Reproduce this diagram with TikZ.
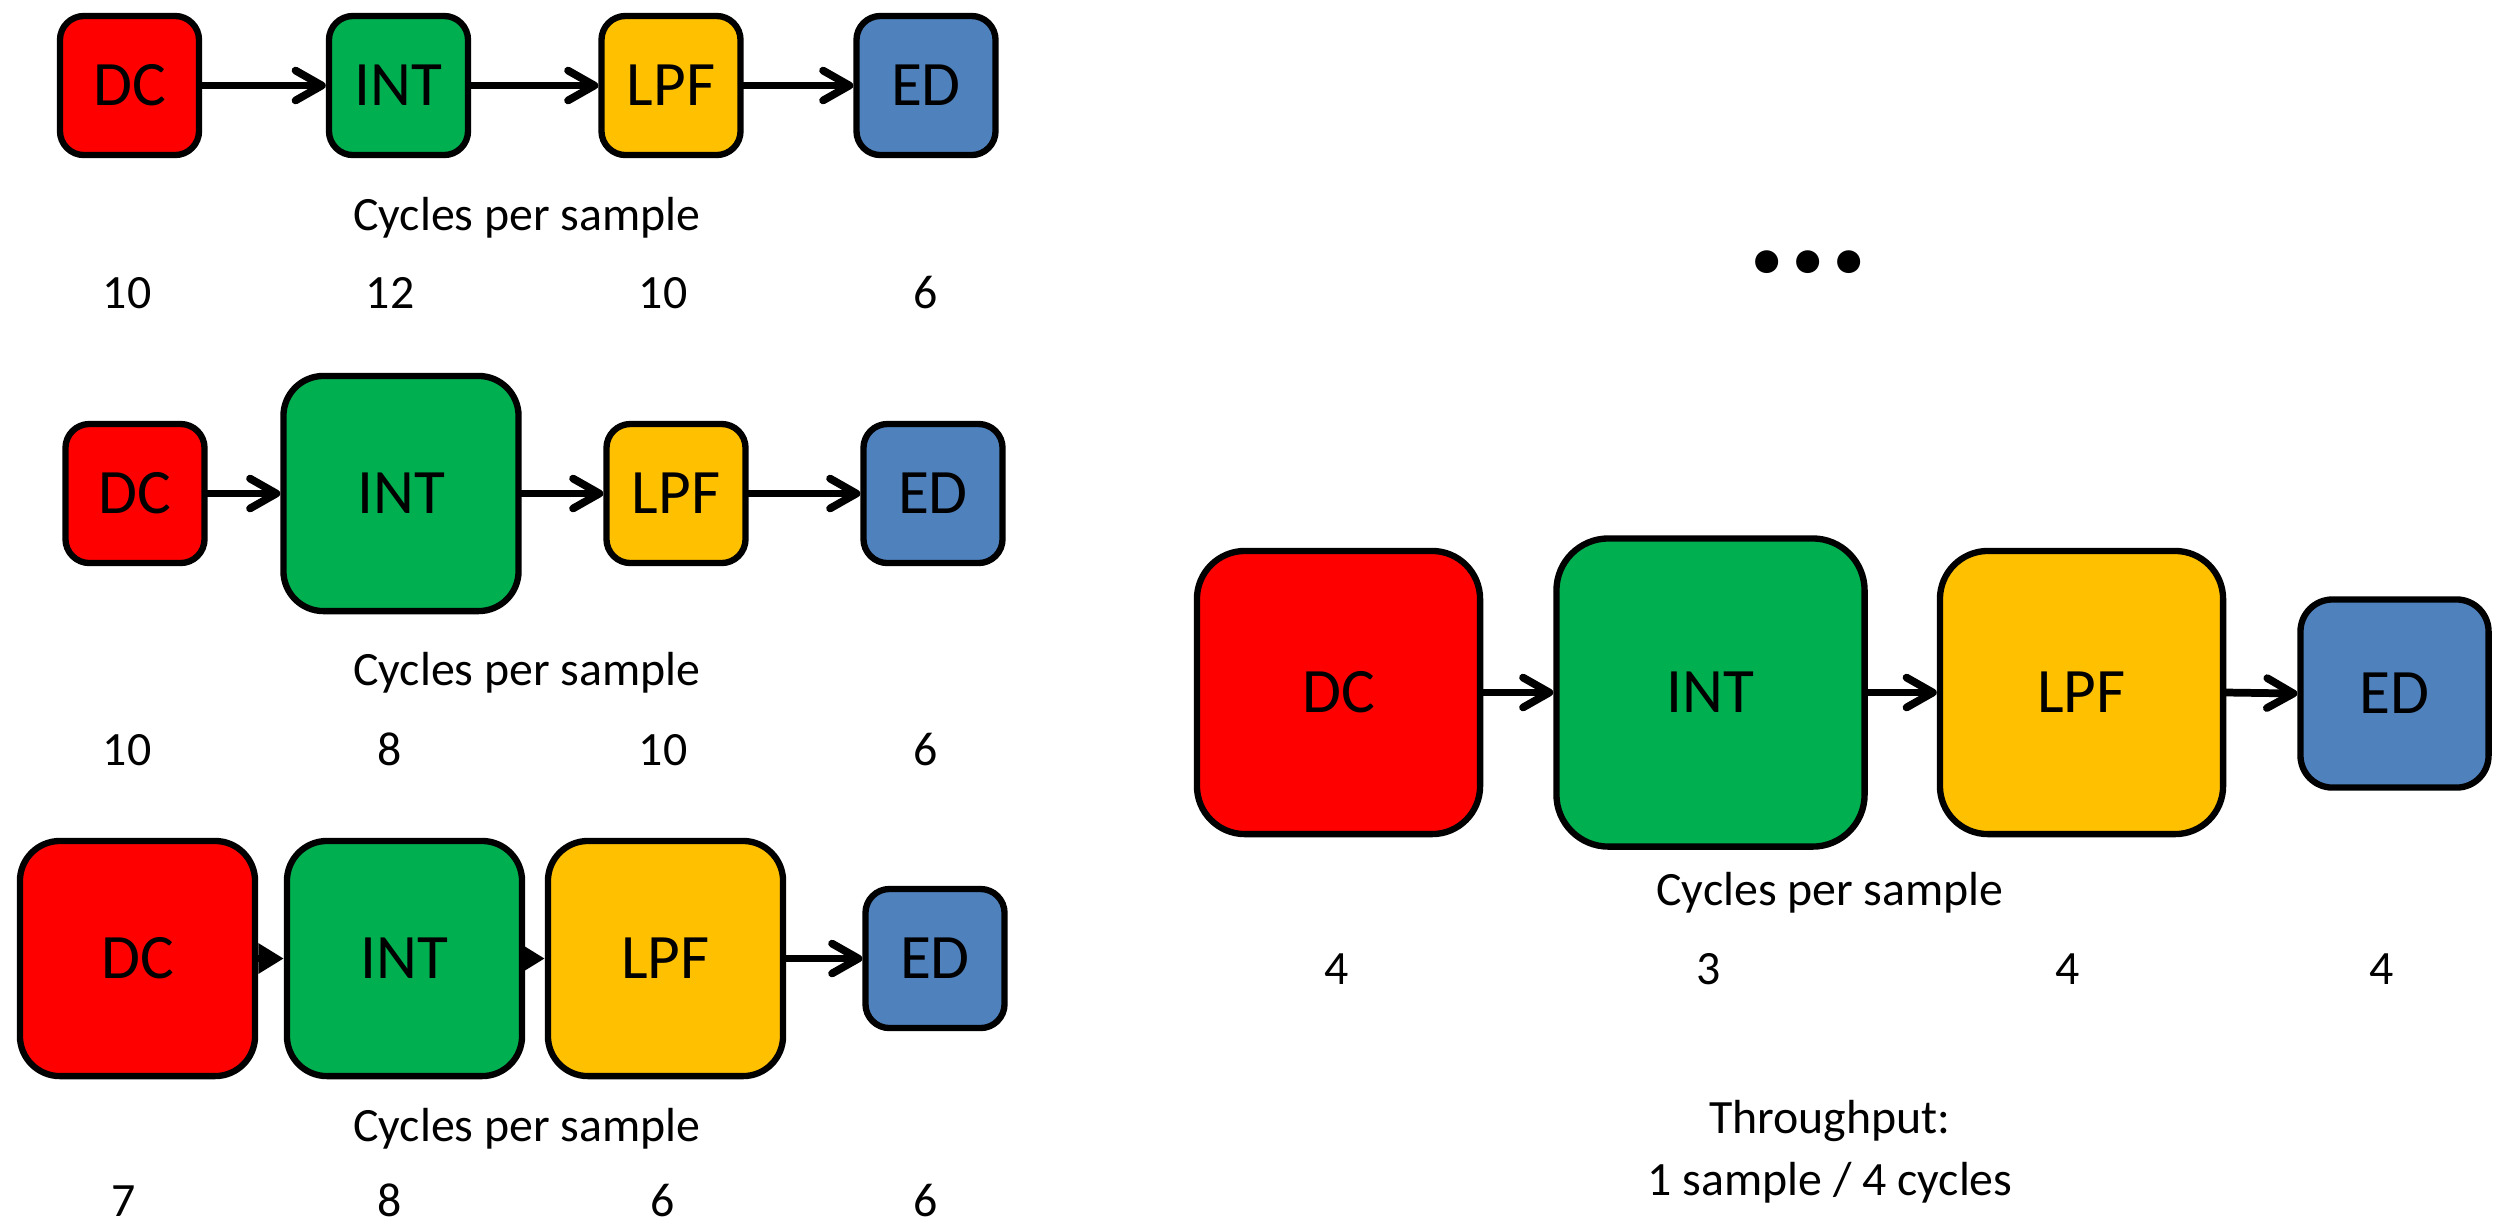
\documentclass[tikz,border=0pt]{standalone}
\usepackage{fontspec}
\setmainfont{Carlito}
\usetikzlibrary{arrows.meta}
\definecolor{dcred}{HTML}{FF0000}
\definecolor{intgreen}{HTML}{00B050}
\definecolor{lpfamber}{HTML}{FFC000}
\definecolor{edblue}{HTML}{4F81BD}

\begin{document}
\begin{tikzpicture}[x=0.01cm, y=-0.01cm,
  stage/.style={draw=black, line width=1.8pt, inner sep=0pt,
                font=\fontsize{18}{21}\selectfont},
  sA/.style={minimum width=1.39cm, minimum height=1.39cm, rounded corners=0.24cm},
  sB/.style={minimum width=2.35cm, minimum height=2.35cm, rounded corners=0.40cm},
  sC/.style={minimum width=2.83cm, minimum height=2.83cm, rounded corners=0.48cm},
  sD/.style={minimum width=3.08cm, minimum height=3.08cm, rounded corners=0.52cm},
  sE/.style={minimum width=1.88cm, minimum height=1.88cm, rounded corners=0.32cm},
  flow/.style={line width=2.2pt, line cap=round,
               -{Straight Barb[length=7.5pt, width=8.5pt, line cap=round, line join=round]}},
  stub/.style={line width=2.2pt, -{Triangle[length=7.2pt, width=8.2pt]}},
  lab/.style={font=\fontsize{13.6}{16}\selectfont, anchor=base, inner sep=0pt}]

\useasboundingbox (0,0) rectangle (2495,1226);

% ---- first pipeline: all stages the same size
\node[stage, sA, fill=dcred]    (r1dc)  at (129.5,85.5) {DC};
\node[stage, sA, fill=intgreen] (r1int) at (398.5,85.5) {INT};
\node[stage, sA, fill=lpfamber] (r1lpf) at (671,85.5)   {LPF};
\node[stage, sA, fill=edblue]   (r1ed)  at (926,85.5)   {ED};
\draw[flow] (r1dc.east)  -- (r1int.west);
\draw[flow] (r1int.east) -- (r1lpf.west);
\draw[flow] (r1lpf.east) -- (r1ed.west);
\node[lab] (r1cap) at (527,230) {Cycles per sample};
\node[lab] (r1n1) at (127,308) {10};
\node[lab] (r1n2) at (390,308) {12};
\node[lab] (r1n3) at (663,308) {10};
\node[lab] (r1n4) at (926,308) {6};

% ---- second pipeline: larger integrator
\node[stage, sA, fill=dcred]    (r2dc)  at (135,493.5) {DC};
\node[stage, sB, fill=intgreen] (r2int) at (401,493.5) {INT};
\node[stage, sA, fill=lpfamber] (r2lpf) at (676,493.5) {LPF};
\node[stage, sA, fill=edblue]   (r2ed)  at (933,493.5) {ED};
\draw[flow] (r2dc.east)  -- (r2int.west);
\draw[flow] (r2int.east) -- (r2lpf.west);
\draw[flow] (r2lpf.east) -- (r2ed.west);
\node[lab] (r2cap) at (527,685) {Cycles per sample};
\node[lab] (r2n1) at (127,765) {10};
\node[lab] (r2n2) at (390,765) {8};
\node[lab] (r2n3) at (663,765) {10};
\node[lab] (r2n4) at (926,765) {6};

% ---- third pipeline: three large stages, tight gaps
\node[stage, sB, fill=dcred]    (r3dc)  at (137.5,958.5) {DC};
\node[stage, sB, fill=intgreen] (r3int) at (404.5,958.5) {INT};
\node[stage, sB, fill=lpfamber] (r3lpf) at (665.5,958.5) {LPF};
\node[stage, sA, fill=edblue]   (r3ed)  at (935,958.5)   {ED};
\draw[stub] (r3dc.east)  -- (r3int.west);
\draw[stub] (r3int.east) -- (r3lpf.west);
\draw[flow] (r3lpf.east) -- (r3ed.west);
\node[lab] (r3cap) at (527,1141) {Cycles per sample};
\node[lab] (r3n1) at (124,1216) {7};
\node[lab] (r3n2) at (390,1216) {8};
\node[lab] (r3n3) at (663,1216) {6};
\node[lab] (r3n4) at (926,1216) {6};

% ---- ellipsis
\node[font=\fontsize{44}{48}\selectfont\bfseries, anchor=base, inner sep=0pt]
  (more) at (1808,272) {...};

% ---- final pipeline
\node[stage, sC, fill=dcred]    (fdc)  at (1338.5,692.5) {DC};
\node[stage, sD, fill=intgreen] (fint) at (1710.5,692.5) {INT};
\node[stage, sC, fill=lpfamber] (flpf) at (2081.5,692.5) {LPF};
\node[stage, sE, fill=edblue]   (fed)  at (2394.5,693.5) {ED};
\draw[flow] (fdc.east)  -- (fint.west);
\draw[flow] (fint.east) -- (flpf.west);
\draw[flow] (flpf.east) -- (fed.west);
\node[lab] (fcap) at (1830,905) {Cycles per sample};
\node[lab] (fn1) at (1337,984) {4};
\node[lab] (fn2) at (1709,984) {3};
\node[lab] (fn3) at (2068,984) {4};
\node[lab] (fn4) at (2382,984) {4};
\node[lab] (thr1) at (1830,1133) {Throughput:};
\node[lab] (thr2) at (1830,1195) {1 sample / 4 cycles};

\end{tikzpicture}
\end{document}
